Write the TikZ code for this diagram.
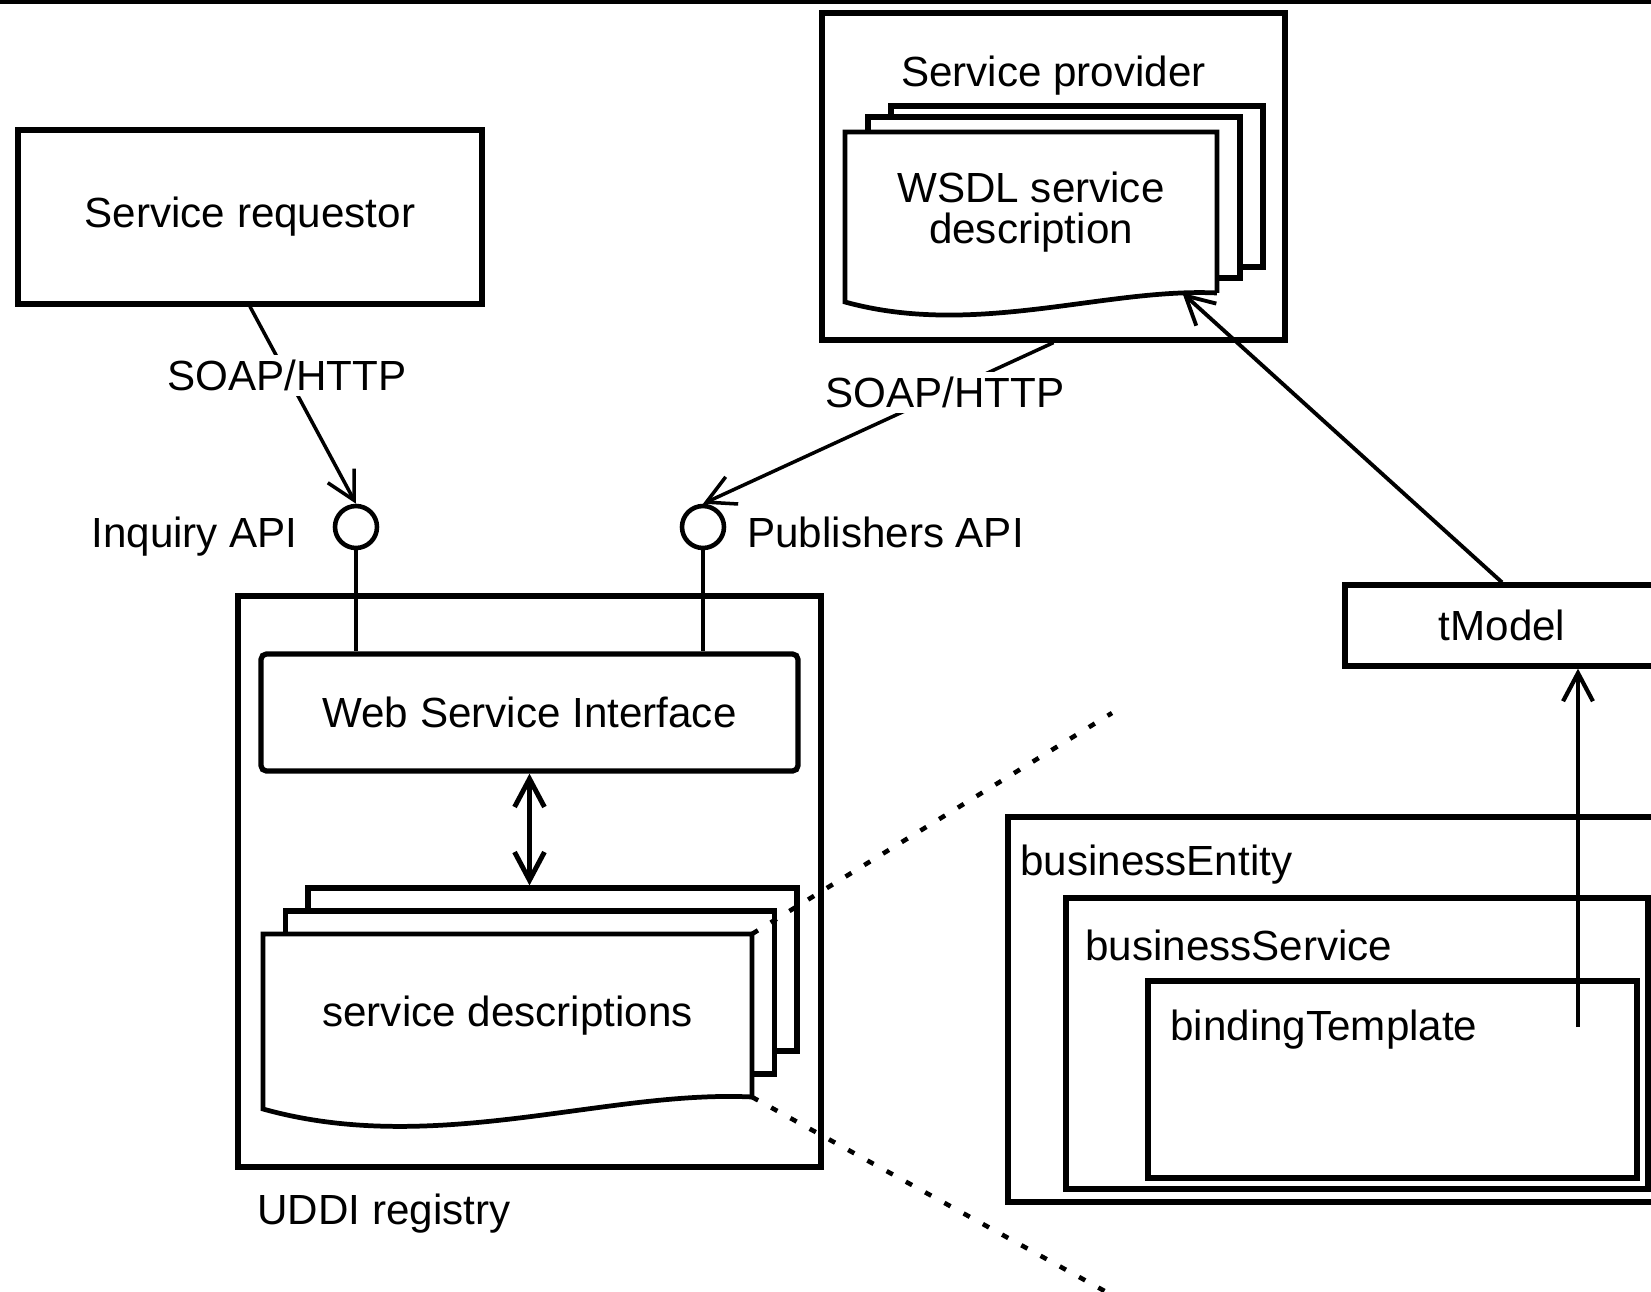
\documentclass[tikz,border=0pt]{standalone}
\usepackage{fontspec}
\setmainfont{Liberation Sans}
\usetikzlibrary{calc,positioning,arrows.meta}
\newcommand{\diagfont}{\fontsize{24}{23.3}\selectfont}
\tikzset{
  blk/.style={rectangle,draw=black,line width=3pt,fill=white,inner sep=0pt,font=\diagfont},
  pagefront/.style={rectangle,draw=none,inner sep=0pt,outer sep=0pt},
  txt/.style={inner sep=0pt,font=\diagfont},
  iface/.style={circle,draw=black,line width=2.6pt,fill=white,inner sep=0pt,minimum size=0.84cm},
  wire/.style={line width=2.6pt},
  arr/.style={->,line width=2pt},
  darr/.style={<->,line width=2.8pt},
  soap/.style={fill=white,inner sep=3pt,font=\diagfont},
  zoomline/.style={line width=2.6pt,dash pattern=on 4pt off 8.5pt},
  wave/.style={line width=2.7pt,fill=white},
}
% front page of a stack: flat top, wavy bottom edge
\newcommand{\pagewave}[2]{%
  \filldraw[wave] (#1.south east) -- (#1.north east) -- (#1.north west)
    -- ($(#1.south west)+(0,#2)$)
    .. controls ($(#1.south west)!0.35!(#1.south east)+(0,5*#2)$)
    and ($(#1.south west)!0.7!(#1.south east)+(0,-0.6*#2)$) .. (#1.south east);}

\begin{document}
\begin{tikzpicture}[x=0.02cm,y=-0.02cm,>={Straight Barb[length=16pt,width=17pt]}]
  \path[use as bounding box,clip] (0,0) rectangle (1651,1292);
  \draw[line width=2.6pt] (0,2) -- (1651,2);

  % requestor and provider
  \node[blk,minimum width=9.28cm,minimum height=3.48cm] (req) at (250,217) {Service requestor};
  \node[blk,minimum width=9.26cm,minimum height=6.54cm] (prov) at (1053.5,176.5) {};
  \node[txt,anchor=base] (provlbl) at (1053.5,86) {Service provider};
  \foreach \n/\x/\y in {wsdlc/1077/186.5, wsdlb/1054/197.5}{
    \node[blk,minimum width=7.44cm,minimum height=3.22cm] (\n) at (\x,\y) {};}
  \node[pagefront,minimum width=7.44cm,minimum height=3.22cm] (wsdl) at (1031,212.5) {};
  \pagewave{wsdl}{9}
  \node[txt,align=center] (wsdltxt) at (wsdl) {WSDL service\\description};

  % UDDI registry
  \node[blk,minimum width=11.66cm,minimum height=11.42cm] (uddi) at (529.5,881.5) {};
  \node[txt,anchor=base west] (uddilbl) at (257,1224) {UDDI registry};
  \node[blk,rounded corners=3pt,minimum width=10.74cm,minimum height=2.34cm] (wsi) at (529.5,712.5) {Web Service Interface};
  \foreach \n/\x/\y in {sdc/552.5/969.5, sdb/530/992.5}{
    \node[blk,minimum width=9.78cm,minimum height=3.26cm] (\n) at (\x,\y) {};}
  \node[pagefront,minimum width=9.78cm,minimum height=3.26cm] (sd) at (507.5,1015.5) {};
  \pagewave{sd}{12}
  \node[txt] (sdtxt) at (sd) {service descriptions};
  \draw[darr] (wsi.south) -- (wsi.south |- sdc.north);

  % interfaces
  \node[iface] (inq) at (356,527) {};
  \node[iface] (pub) at (703,527) {};
  \node[txt,anchor=base east] (inqlbl) at (298,547) {Inquiry API};
  \node[txt,anchor=base west] (publbl) at (747,547) {Publishers API};
  \draw[wire] (inq.south) -- (inq.south |- wsi.north);
  \draw[wire] (pub.south) -- (pub.south |- wsi.north);
  \draw[arr] (req.south) -- node[soap,pos=0.35]{SOAP/HTTP} (inq.north);
  \draw[arr] (prov.south) -- node[soap,pos=0.31]{SOAP/HTTP} (pub.north);

  % tModel and registry entries
  \node[blk,minimum width=6.28cm,minimum height=1.62cm] (tm) at (1502,625.5) {tModel};
  \node[blk,minimum width=13.24cm,minimum height=7.7cm] (bent) at (1339,1009.5) {};
  \node[blk,minimum width=11.64cm,minimum height=5.82cm] (bsvc) at (1357,1043.5) {};
  \node[blk,minimum width=9.78cm,minimum height=3.94cm] (btpl) at (1392.5,1079.5) {};
  \node[txt,anchor=base west] (bentlbl) at (1020,875) {businessEntity};
  \node[txt,anchor=base west] (bsvclbl) at (1085,960) {businessService};
  \node[txt,anchor=base west] (btpllbl) at (1170,1040) {bindingTemplate};
  \coordinate (tplref) at (1578,1027);
  \draw[arr,line width=2.4pt] (tplref) -- (tplref |- tm.south);
  \draw[arr,line width=2.2pt] (tm.north) -- (wsdl.-28);

  % detail lines
  \coordinate (zt) at (1112,713);
  \coordinate (zb) at (1110,1294);
  \draw[zoomline] (sd.north east) -- (zt);
  \draw[zoomline] (sd.south east) -- (zb);
\end{tikzpicture}
\end{document}
